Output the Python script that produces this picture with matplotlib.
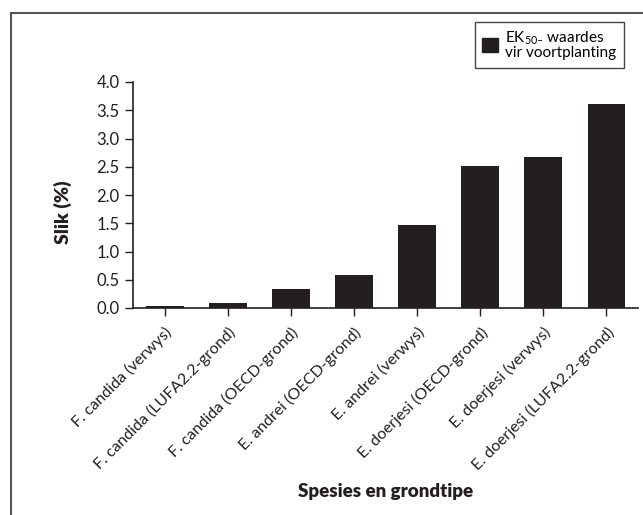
import matplotlib
matplotlib.use('Agg')
import matplotlib.pyplot as plt
from matplotlib.patches import Patch, Rectangle

# Data
soorte = ['F. candida (verwys)', 'F. candida (LUFA2.2-grond)', 'F. candida (OECD-grond)',
          'E. andrei (OECD-grond)', 'E. andrei (verwys)', 'E. doerjesi (OECD-grond)',
          'E. doerjesi (verwys)', 'E. doerjesi (LUFA2.2-grond)']
ek50 = [0.03, 0.09, 0.34, 0.59, 1.47, 2.51, 2.67, 3.61]
y_ticks = [0.0, 0.5, 1.0, 1.5, 2.0, 2.5, 3.0, 3.5, 4.0]

plt.rcParams['font.family'] = ['Lato', 'DejaVu Sans']
plt.rcParams['mathtext.fontset'] = 'custom'
plt.rcParams['mathtext.rm'] = 'Lato'

kleur = '#231f20'

fig = plt.figure(figsize=(6.43, 5.15), dpi=100)
ax = fig.add_axes([133/643, 1 - 308/515, 505/643, 226/515])

x = list(range(len(soorte)))
ax.bar(x, ek50, width=0.6, color=kleur)

ax.set_xlim(-0.5, len(soorte) - 0.5)
ax.set_ylim(0, 4.0)
ax.set_yticks(y_ticks)
ax.set_yticklabels([f'{v:.1f}' for v in y_ticks], fontsize=12, color='#231f20')
ax.set_xticks(x)
ax.set_xticklabels(soorte, rotation=45, ha='right', rotation_mode='anchor',
                   fontsize=11.5, color='#231f20')

for kant in ['top', 'right']:
    ax.spines[kant].set_visible(False)
for kant in ['left', 'bottom']:
    ax.spines[kant].set_color(kleur)
    ax.spines[kant].set_linewidth(1.2)
ax.tick_params(direction='out', length=6, width=1.0, color=kleur)
ax.tick_params(axis='x', pad=6)

ax.set_ylabel('Slik (%)', fontsize=14, fontweight='heavy', color=kleur)
ax.yaxis.set_label_coords(-0.12, 0.425)
fig.text(385.5/643, 1 - 492/515, 'Spesies en grondtipe', fontsize=13.5, fontweight='heavy',
         color=kleur, ha='center', va='center')

# legend box top right
handle = Patch(facecolor=kleur, edgecolor=kleur)
leg = fig.legend([handle], ['EK$_{\\mathregular{50–}}$ waardes\nvir voortplanting'],
                 loc='upper right', bbox_to_anchor=(624/643, 1 - 22/515),
                 bbox_transform=fig.transFigure, fontsize=11, fancybox=False,
                 framealpha=1, edgecolor='#444444', handlelength=1.0, handleheight=1.0,
                 handletextpad=0.5, borderpad=0.5, labelspacing=0.1, borderaxespad=0)
leg.get_frame().set_linewidth(1.0)
for t in leg.get_texts():
    t.set_linespacing(0.9)

# outer frame, cut off at the right and bottom
fig.patches.append(Rectangle((11/643, -0.1), 1.2, 1 - 13/515 + 0.1, transform=fig.transFigure,
                             fill=False, edgecolor='#555555', linewidth=1.5))

fig.savefig('out.png', dpi=100)
